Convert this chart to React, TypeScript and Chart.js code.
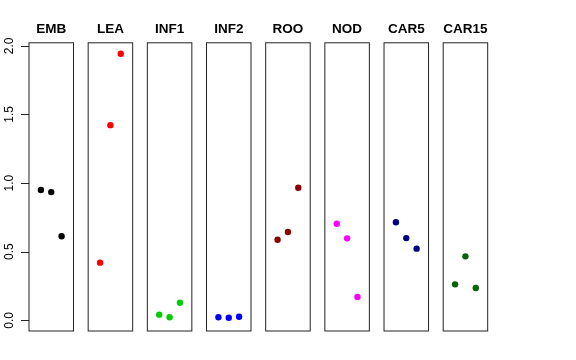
import React, { useEffect, useRef } from "react";
import { Chart, registerables } from "chart.js";

Chart.register(...registerables);

// ---- data ----
const panels = ["EMB", "LEA", "INF1", "INF2", "ROO", "NOD", "CAR5", "CAR15"];
const replicates = [1, 2, 3];
const EMB = [0.949, 0.934, 0.612];
const LEA = [0.42, 1.422, 1.942];
const INF1 = [0.041, 0.022, 0.128];
const INF2 = [0.022, 0.019, 0.026];
const ROO = [0.587, 0.643, 0.966];
const NOD = [0.704, 0.597, 0.17];
const CAR5 = [0.714, 0.599, 0.522];
const CAR15 = [0.262, 0.466, 0.235];
const seriesValues = [EMB, LEA, INF1, INF2, ROO, NOD, CAR5, CAR15];
const panelColors = ["#000000", "#FF0000", "#00CD00", "#0000FF", "#8B0000", "#FF00FF", "#000080", "#006400"];
const yTicks = [0, 0.5, 1, 1.5, 2];
const yTickLabels = ["0.0", "0.5", "1.0", "1.5", "2.0"];

// ---- layout ----
const W = 360;
const PANEL_LEFT0 = 29;
const PANEL_PITCH = 59.17;
const PANEL_W = 44.5;
const SIDE = 12;
const Y_MIN = -0.078;
const Y_MAX = 2.022;

const boxPlugin = {
  id: "box",
  afterDraw(chart: any) {
    const { ctx, chartArea } = chart;
    ctx.save();
    ctx.strokeStyle = "#222";
    ctx.lineWidth = 1;
    ctx.strokeRect(chartArea.left, chartArea.top, chartArea.right - chartArea.left, chartArea.bottom - chartArea.top);
    ctx.restore();
  },
};

const yAxisPlugin = {
  id: "rYAxis",
  afterDraw(chart: any) {
    const { ctx, chartArea } = chart;
    const y = chart.scales.y;
    ctx.save();
    ctx.strokeStyle = "#222";
    ctx.lineWidth = 1;
    ctx.fillStyle = "#000";
    ctx.font = "12px 'Liberation Sans', Arial, sans-serif";
    ctx.textAlign = "center";
    ctx.textBaseline = "middle";
    yTicks.forEach((v, i) => {
      const py = y.getPixelForValue(v);
      ctx.beginPath();
      ctx.moveTo(chartArea.left - 8, Math.round(py) + 0.5);
      ctx.lineTo(chartArea.left, Math.round(py) + 0.5);
      ctx.stroke();
      ctx.save();
      ctx.translate(10, py);
      ctx.rotate(-Math.PI / 2);
      ctx.fillText(yTickLabels[i], 0, 0);
      ctx.restore();
    });
    ctx.restore();
  },
};

function Panel({ index }: { index: number }) {
  const ref = useRef<HTMLCanvasElement>(null);
  const panelLeft = PANEL_LEFT0 + index * PANEL_PITCH;
  const canvasLeft = index === 0 ? 0 : Math.floor(panelLeft) - SIDE;
  const canvasWidth = index === 0 ? Math.ceil(panelLeft + PANEL_W + SIDE) : Math.ceil(PANEL_W + 2 * SIDE + 1);
  const padLeft = panelLeft - canvasLeft;
  const padRight = canvasWidth - padLeft - PANEL_W;

  useEffect(() => {
    if (!ref.current) return;
    const chart = new Chart(ref.current, {
      type: "scatter",
      data: {
        datasets: [
          {
            label: panels[index],
            data: replicates.map((r, k) => ({ x: r, y: seriesValues[index][k] })),
            backgroundColor: panelColors[index],
            borderColor: panelColors[index],
            borderWidth: 0,
            pointRadius: 3.2,
            pointHoverRadius: 3.2,
          },
        ],
      },
      options: {
        responsive: false,
        animation: false,
        devicePixelRatio: 1,
        layout: { padding: { left: padLeft, right: padRight, top: 0, bottom: 29 } },
        plugins: {
          legend: { display: false },
          tooltip: { enabled: false },
          title: {
            display: true,
            text: panels[index],
            color: "#000",
            font: { family: "'Liberation Sans', Arial, sans-serif", size: 13.5, weight: "bold" },
            padding: { top: 21, bottom: 5.6 },
          },
        },
        scales: {
          x: { type: "linear", min: -0.15, max: 4.15, display: false },
          y: { type: "linear", min: Y_MIN, max: Y_MAX, display: false },
        },
      },
      plugins: index === 0 ? [boxPlugin, yAxisPlugin] : [boxPlugin],
    });
    return () => chart.destroy();
  }, [index]);

  return (
    <canvas
      ref={ref}
      width={canvasWidth}
      height={W}
      style={{ position: "absolute", left: canvasLeft, top: 0, width: canvasWidth, height: W }}
    />
  );
}

export default function App() {
  return (
    <div style={{ position: "absolute", left: 0, top: 0, width: 576, height: 360, background: "#fff" }}>
      {panels.map((p, i) => (
        <Panel key={p} index={i} />
      ))}
    </div>
  );
}
